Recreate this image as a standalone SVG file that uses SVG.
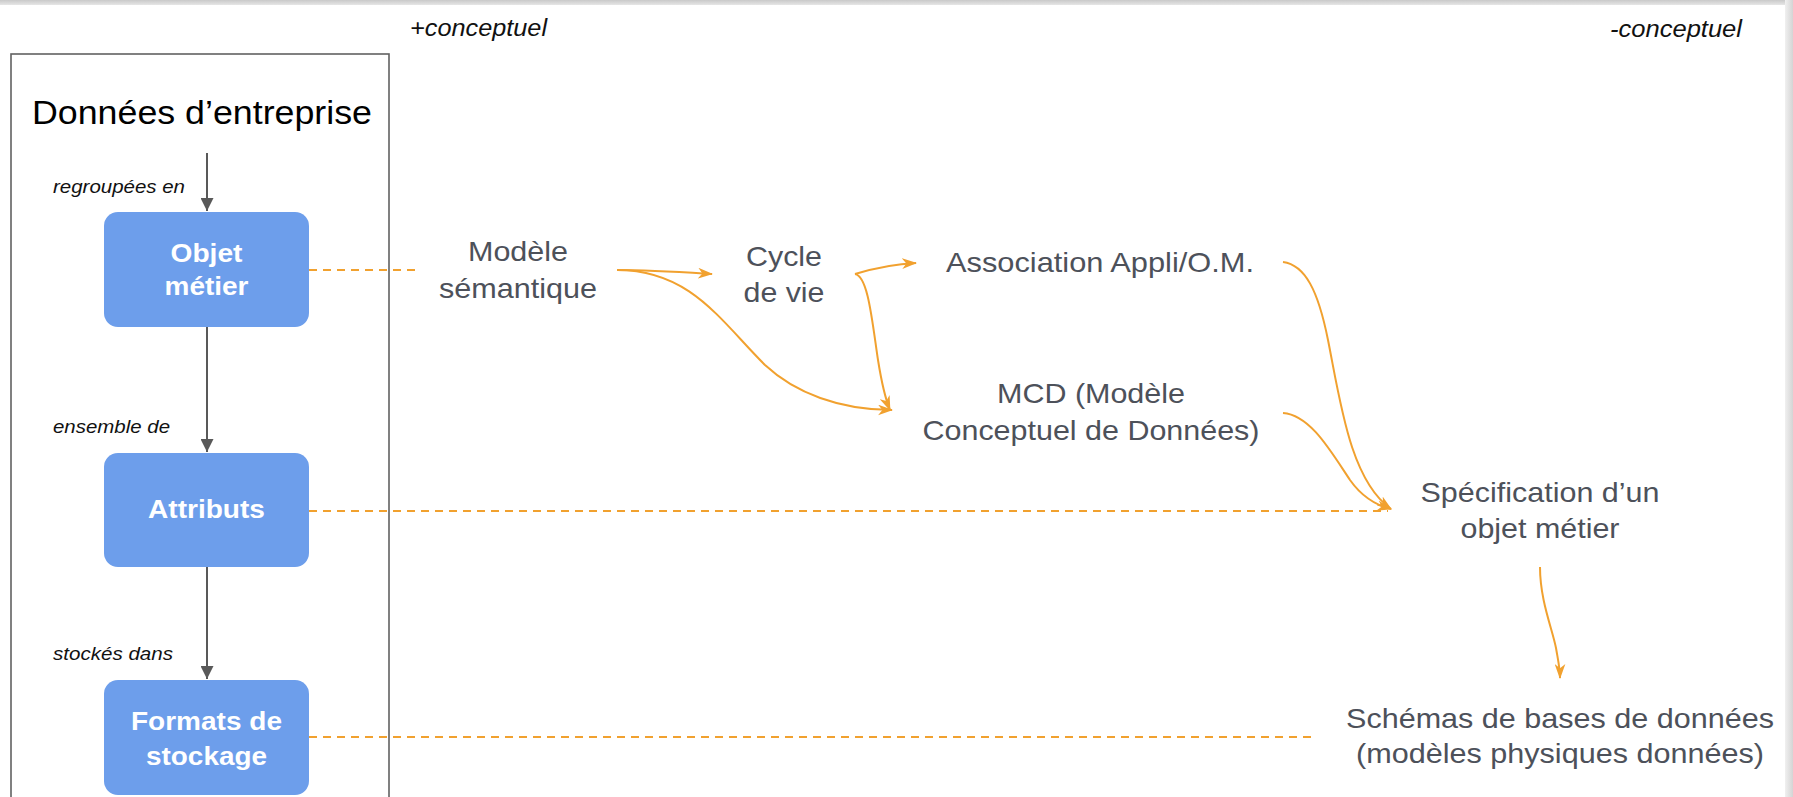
<svg xmlns="http://www.w3.org/2000/svg" width="1793" height="797" viewBox="0 0 1793 797">
<defs>
<linearGradient id="topband" x1="0" y1="0" x2="0" y2="1">
<stop offset="0" stop-color="#c9c9c9"/><stop offset="1" stop-color="#e6e6e6"/>
</linearGradient>
<linearGradient id="rightband" x1="0" y1="0" x2="1" y2="0">
<stop offset="0" stop-color="#f0f0f0"/><stop offset="1" stop-color="#d4d4d4"/>
</linearGradient>
<marker id="grayHead" viewBox="0 0 14 14" refX="14" refY="7" markerWidth="13" markerHeight="13" markerUnits="userSpaceOnUse" orient="auto">
<path d="M0,0 L14,7 L0,14 z" fill="#595959"/>
</marker>
<marker id="orangeHead" viewBox="0 0 14 10" refX="13" refY="5" markerWidth="15" markerHeight="11" markerUnits="userSpaceOnUse" orient="auto">
<path d="M0,0 L14,5 L0,10 L4,5 z" fill="#f1a12f"/>
</marker>
</defs>
<style>
.t{font-family:"Liberation Sans",Arial,sans-serif}
.it{font-style:italic;fill:#111;font-size:19px}
.con{font-style:italic;fill:#111;font-size:23px}
.bw{font-weight:bold;fill:#ffffff;font-size:26px}
.gr{fill:#4d515a;font-size:28px}
.box{fill:#6d9eeb}
.gline{stroke:#595959;stroke-width:2;fill:none}
.oline{stroke:#f1a12f;stroke-width:2;fill:none}
.dash{stroke:#f1a12f;stroke-width:2;fill:none;stroke-dasharray:8 6}
</style>
<rect x="0" y="0" width="1793" height="797" fill="#ffffff"/>
<rect x="0" y="0" width="1793" height="5" fill="url(#topband)"/>
<rect x="1785" y="0" width="8" height="797" fill="url(#rightband)"/>

<g id="labels-axis">
<text class="t con" x="410" y="36" textLength="137" lengthAdjust="spacingAndGlyphs">+conceptuel</text>
<text class="t con" x="1610" y="37" textLength="132" lengthAdjust="spacingAndGlyphs">-conceptuel</text>
</g>

<g id="donnees-entreprise">
<rect x="11" y="54" width="378" height="800" fill="none" stroke="#616161" stroke-width="1.6"/>
<text class="t" x="32" y="124" font-size="33" fill="#000" textLength="340" lengthAdjust="spacingAndGlyphs">Données d’entreprise</text>
</g>

<g id="connectors">
<line class="gline" x1="207" y1="153" x2="207" y2="211" marker-end="url(#grayHead)"/>
<line class="gline" x1="207" y1="327" x2="207" y2="452" marker-end="url(#grayHead)"/>
<line class="gline" x1="207" y1="567" x2="207" y2="679" marker-end="url(#grayHead)"/>
<text class="t it" x="53" y="193" textLength="132" lengthAdjust="spacingAndGlyphs">regroupées en</text>
<text class="t it" x="53" y="433" textLength="117" lengthAdjust="spacingAndGlyphs">ensemble de</text>
<text class="t it" x="53" y="660" textLength="120" lengthAdjust="spacingAndGlyphs">stockés dans</text>

<path class="dash" d="M309,270 H420"/>
<path class="dash" d="M309,511 H1388"/>
<path class="dash" d="M309,737 H1312"/>

<path class="oline" d="M617,270 C650,270 680,272 712,274" marker-end="url(#orangeHead)"/>
<path class="oline" d="M617,270 C690,270 720,320 765,365 C795,393 840,410 892,410" marker-end="url(#orangeHead)"/>
<path class="oline" d="M855,274 C875,268 893,264 916,263" marker-end="url(#orangeHead)"/>
<path class="oline" d="M855,274 C868,276 872,320 878,360 C882,385 885,398 890,410" marker-end="url(#orangeHead)"/>
<path class="oline" d="M1283,262 C1305,265 1318,290 1328,340 C1340,400 1350,480 1391,509" marker-end="url(#orangeHead)"/>
<path class="oline" d="M1283,413 C1310,415 1330,450 1350,480 C1362,497 1375,505 1391,509" marker-end="url(#orangeHead)"/>
<path class="oline" d="M1540,567 C1540,600 1552,628 1556,648 C1558,660 1560,668 1560,678" marker-end="url(#orangeHead)"/>
</g>

<g id="objet-metier">
<rect class="box" x="104" y="212" width="205" height="115" rx="14"/>
<text class="t bw" x="206.5" y="262" text-anchor="middle" textLength="72" lengthAdjust="spacingAndGlyphs">Objet</text>
<text class="t bw" x="206.5" y="295" text-anchor="middle" textLength="84" lengthAdjust="spacingAndGlyphs">métier</text>
</g>

<g id="attributs">
<rect class="box" x="104" y="453" width="205" height="114" rx="14"/>
<text class="t bw" x="206.5" y="518" text-anchor="middle" textLength="117" lengthAdjust="spacingAndGlyphs">Attributs</text>
</g>

<g id="formats-stockage">
<rect class="box" x="104" y="680" width="205" height="115" rx="14"/>
<text class="t bw" x="206.5" y="730" text-anchor="middle" textLength="151" lengthAdjust="spacingAndGlyphs">Formats de</text>
<text class="t bw" x="206.5" y="765" text-anchor="middle" textLength="121" lengthAdjust="spacingAndGlyphs">stockage</text>
</g>

<g id="modele-semantique">
<text class="t gr" x="518" y="261" text-anchor="middle" textLength="100" lengthAdjust="spacingAndGlyphs">Modèle</text>
<text class="t gr" x="518" y="298" text-anchor="middle" textLength="158" lengthAdjust="spacingAndGlyphs">sémantique</text>
</g>

<g id="cycle-de-vie">
<text class="t gr" x="784" y="266" text-anchor="middle" textLength="76" lengthAdjust="spacingAndGlyphs">Cycle</text>
<text class="t gr" x="784" y="302" text-anchor="middle" textLength="81" lengthAdjust="spacingAndGlyphs">de vie</text>
</g>

<g id="association">
<text class="t gr" x="1100" y="272" text-anchor="middle" textLength="308" lengthAdjust="spacingAndGlyphs">Association Appli/O.M.</text>
</g>

<g id="mcd">
<text class="t gr" x="1091" y="403" text-anchor="middle" textLength="188" lengthAdjust="spacingAndGlyphs">MCD (Modèle</text>
<text class="t gr" x="1091" y="440" text-anchor="middle" textLength="337" lengthAdjust="spacingAndGlyphs">Conceptuel de Données)</text>
</g>

<g id="specification">
<text class="t gr" x="1540" y="502" text-anchor="middle" textLength="239" lengthAdjust="spacingAndGlyphs">Spécification d’un</text>
<text class="t gr" x="1540" y="538" text-anchor="middle" textLength="159" lengthAdjust="spacingAndGlyphs">objet métier</text>
</g>

<g id="schemas">
<text class="t gr" x="1560" y="728" text-anchor="middle" textLength="428" lengthAdjust="spacingAndGlyphs">Schémas de bases de données</text>
<text class="t gr" x="1560" y="763" text-anchor="middle" textLength="408" lengthAdjust="spacingAndGlyphs">(modèles physiques données)</text>
</g>
</svg>
